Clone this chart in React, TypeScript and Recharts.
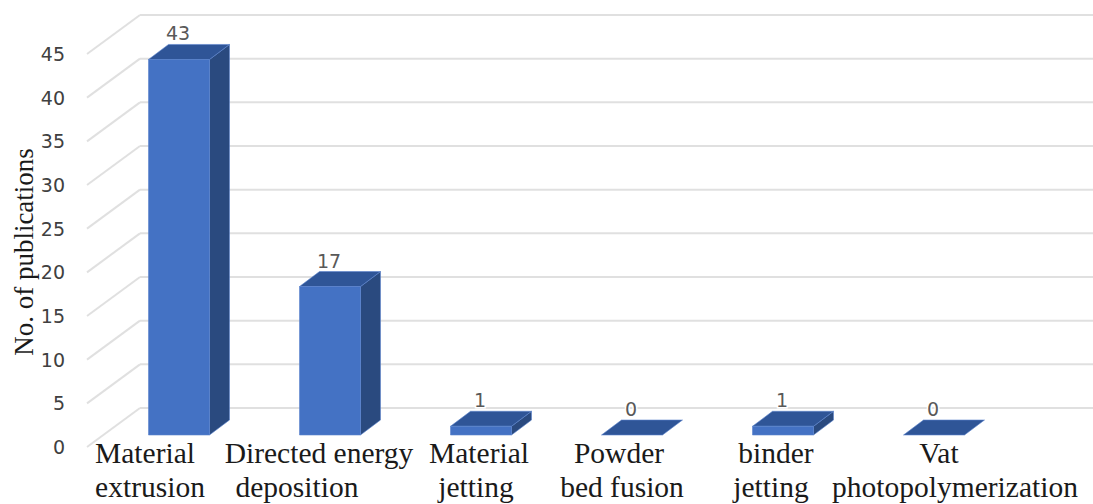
import { Bar, BarChart, CartesianGrid, Label, LabelList, XAxis, YAxis } from 'recharts';

const categories = [
    ['Material', 'extrusion'],
    ['Directed energy', 'deposition'],
    ['Material', 'jetting'],
    ['Powder', 'bed fusion'],
    ['binder', 'jetting'],
    ['Vat', 'photopolymerization'],
];
const publications = [43, 17, 1, 0, 1, 0];
const yTicks = [0, 5, 10, 15, 20, 25, 30, 35, 40, 45];

const data = categories.map((lines, i) => ({
    name: lines.join(' '),
    publications: publications[i],
}));

// the labels in the original are hand placed text boxes, so each line has its own nudge
const labelNudges = [
    [-34, -29],
    [-11, -33],
    [-2, -5],
    [-13, -10],
    [-7, -12],
    [5, 21],
];

const WIDTH = 1093;
const HEIGHT = 504;
const DEPTH_X = 20;
const DEPTH_Y = 15;
const SERIF = '"Liberation Serif", serif';
const SANS = '"DejaVu Sans", sans-serif';

// bars stand mid-way on the floor, the wall sits behind and the axis in front
const WallLine = ({ y1 }: any) => (
    <g stroke="#e0e0e0" strokeWidth={2} fill="none">
        <line x1={87} y1={y1 + 12} x2={140} y2={y1 - 27} />
        <line x1={140} y1={y1 - 27} x2={WIDTH} y2={y1 - 27} />
    </g>
);

const Bar3D = ({ x, y, width, height }: any) => {
    const bottom = y + height;
    const right = x + width;
    return (
        <g stroke="#5b83cc" strokeWidth={0.6} strokeLinejoin="round">
            {height > 0 && (
                <path
                    d={`M${right},${y} L${right + DEPTH_X},${y - DEPTH_Y} L${right + DEPTH_X},${bottom - DEPTH_Y} L${right},${bottom} Z`}
                    fill="#2a4a7f"
                />
            )}
            <path
                d={`M${x},${y} L${x + DEPTH_X},${y - DEPTH_Y} L${right + DEPTH_X},${y - DEPTH_Y} L${right},${y} Z`}
                fill="#2f5597"
            />
            {height > 0 && <rect x={x} y={y} width={width} height={height} fill="#4472c4" />}
        </g>
    );
};

const ValueLabel = ({ x, y, width, value }: any) => (
    <text
        x={x + width / 2 - 1}
        y={y - 19}
        textAnchor="middle"
        fontFamily={SANS}
        fontSize={19}
        fill="#595959"
        stroke="#ffffff"
        strokeWidth={3}
        paintOrder="stroke"
    >
        {value}
    </text>
);

const ValueTick = ({ y, payload }: any) => (
    <text
        x={65}
        y={y + 19}
        textAnchor="end"
        fontFamily={SANS}
        fontSize={19}
        fill="#404040"
    >
        {payload.value}
    </text>
);

const CategoryTick = ({ x, index }: any) => (
    <text textAnchor="middle" fontFamily={SERIF} fontSize={29.5} fill="#1a1a1a">
        <tspan x={x + labelNudges[index][0]} y={463}>
            {categories[index][0]}
        </tspan>
        <tspan x={x + labelNudges[index][1]} y={497}>
            {categories[index][1]}
        </tspan>
    </text>
);

const AxisTitle = () => (
    <text
        transform="translate(33,252) rotate(-90)"
        textAnchor="middle"
        fontFamily={SERIF}
        fontSize={27}
        fill="#1a1a1a"
    >
        No. of publications
    </text>
);

const App = () => {
    return (
        <div style={{ position: 'absolute', left: 0, top: 0, width: WIDTH, height: HEIGHT }}>
            <BarChart
                width={WIDTH}
                height={HEIGHT}
                data={data}
                barSize={61}
                margin={{ top: 42, right: 83.5, bottom: 0, left: 0 }}
            >
                <CartesianGrid vertical={false} horizontal={(props: any) => <WallLine key={props.key} {...props} />} />
                <XAxis
                    dataKey="name"
                    height={69}
                    axisLine={false}
                    tickLine={false}
                    interval={0}
                    tick={<CategoryTick />}
                />
                <YAxis
                    width={103.5}
                    domain={[0, 45]}
                    ticks={yTicks}
                    axisLine={false}
                    tickLine={false}
                    tick={<ValueTick />}
                >
                    <Label content={<AxisTitle />} />
                </YAxis>
                <Bar dataKey="publications" shape={<Bar3D />} isAnimationActive={false}>
                    <LabelList dataKey="publications" content={<ValueLabel />} />
                </Bar>
            </BarChart>
        </div>
    );
};

export default App;
